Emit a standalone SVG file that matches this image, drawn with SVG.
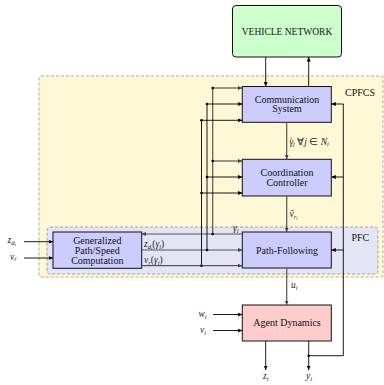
<svg xmlns="http://www.w3.org/2000/svg" width="384" height="385" viewBox="0 0 384 385">
<defs>
<marker id="ah" markerWidth="5" markerHeight="4" refX="4.5" refY="2" orient="auto" markerUnits="userSpaceOnUse">
<path d="M0,0 L4.5,2 L0,4 Z" fill="#000"/>
</marker>
<marker id="ahg" markerWidth="5" markerHeight="4" refX="4.5" refY="2" orient="auto" markerUnits="userSpaceOnUse">
<path d="M0,0 L4.5,2 L0,4 Z" fill="#444"/>
</marker>
<style>
.box{stroke:#111;stroke-width:1}
.blk{fill:#ccccff}
.txt{font-family:"Liberation Serif","Times New Roman",serif;font-size:10px;fill:#111;text-anchor:middle}
.lbl{font-family:"Liberation Serif","Times New Roman",serif;font-size:10px;fill:#111}
.m{font-family:"Liberation Serif","Times New Roman",serif;font-style:italic;font-size:9.5px;fill:#222}
.c{fill:none;stroke:#000;stroke-width:0.9}
.cg{fill:none;stroke:#555;stroke-width:1.2}
.a{marker-end:url(#ah)}
.ag{marker-end:url(#ahg)}
.dot{fill:#000}
</style>
</defs>

<g id="cpfcs">
<rect x="39" y="76" width="344" height="201" rx="2" fill="#fff8d6" stroke="#aaa38a" stroke-width="0.9" stroke-dasharray="3,2"/>
<text class="lbl" x="345" y="96">CPFCS</text>
</g>
<g id="pfc">
<rect x="47" y="227" width="331" height="47" rx="3" fill="#e4e4f7" stroke="#999" stroke-width="0.9" stroke-dasharray="3,2"/>
<text class="lbl" x="351.5" y="241">PFC</text>
</g>

<g id="vehicle-network">
<rect class="box" x="232.5" y="5.5" width="109" height="51.5" rx="3.5" fill="#ccffcc"/>
<text class="txt" x="287" y="35" style="font-size:9.5px">VEHICLE NETWORK</text>
</g>
<g id="communication">
<rect class="box blk" x="242.3" y="86.5" width="89" height="35.8"/>
<text class="txt" x="287" y="102.5">Communication</text>
<text class="txt" x="287" y="112">System</text>
</g>
<g id="coordination">
<rect class="box blk" x="242.3" y="159.3" width="89" height="36.7"/>
<text class="txt" x="287" y="176">Coordination</text>
<text class="txt" x="287" y="185.5">Controller</text>
</g>
<g id="path-following">
<rect class="box blk" x="242.3" y="232" width="89" height="36"/>
<text class="txt" x="287" y="253.5">Path-Following</text>
</g>
<g id="generalized">
<rect class="box blk" x="53" y="232" width="88.7" height="36.3"/>
<text class="txt" x="97.3" y="243.5">Generalized</text>
<text class="txt" x="97.3" y="254">Path/Speed</text>
<text class="txt" x="97.3" y="264">Computation</text>
</g>
<g id="agent">
<rect class="box" x="242.3" y="305" width="89" height="36" fill="#ffcccc"/>
<text class="txt" x="287" y="325.5">Agent Dynamics</text>
</g>

<g id="connectors">
<path class="c a" d="M265.7 57 V86.5"/>
<path class="c a" d="M308.7 86.5 V57"/>
<path class="cg" d="M212.7 88 V234"/>
<path class="cg ag" d="M212.7 88 H242.3"/>
<path class="cg ag" d="M212.7 161 H242.3"/>
<path class="cg ag" d="M242.3 234 H141.7"/>
<path class="c" d="M207 104 V250"/>
<path class="c a" d="M207 104 H242.3"/>
<path class="c a" d="M207 177 H242.3"/>
<path class="cg ag" d="M141.7 250 H242.3"/>
<path class="c" d="M201.5 120.3 V265.7"/>
<path class="c a" d="M201.5 120.3 H242.3"/>
<path class="c a" d="M201.5 193 H242.3"/>
<path class="cg ag" d="M141.7 265.7 H242.3"/>
<path class="cg ag" d="M286.7 122.3 V159.3"/>
<path class="cg ag" d="M286.7 196 V232"/>
<path class="cg ag" d="M286.7 268 V305"/>
<path class="c" d="M308.7 355.7 H343.3 V104"/>
<path class="c a" d="M343.3 104 H331.3"/>
<path class="c a" d="M343.3 177 H331.3"/>
<path class="c a" d="M343.3 250 H331.3"/>
<path class="c a" d="M265.7 341 V370"/>
<path class="c a" d="M308.7 341 V370"/>
<path class="c a" d="M213 314.5 H242.3"/>
<path class="c a" d="M213 330.5 H242.3"/>
<path class="c a" d="M24 241.7 H53"/>
<path class="c a" d="M24 258 H53"/>
<circle class="dot" cx="212.7" cy="88" r="1.3"/>
<circle class="dot" cx="212.7" cy="161" r="1.3"/>
<circle class="dot" cx="212.7" cy="234" r="1.3"/>
<circle class="dot" cx="207" cy="104" r="1.3"/>
<circle class="dot" cx="207" cy="177" r="1.3"/>
<circle class="dot" cx="207" cy="250" r="1.3"/>
<circle class="dot" cx="201.5" cy="120.3" r="1.3"/>
<circle class="dot" cx="201.5" cy="193" r="1.3"/>
<circle class="dot" cx="201.5" cy="265.7" r="1.3"/>
<circle class="dot" cx="308.7" cy="355.7" r="1.3"/>
<text class="m" x="233" y="231">γ<tspan font-size="6.5" dy="1.5">i</tspan></text>
<text class="m" x="289.5" y="144.5">γ<tspan dx="-3.6" dy="-3.2" font-size="6" font-style="normal">^</tspan><tspan dx="0.6" dy="4.7" font-size="6.5">j</tspan><tspan dy="-1.5" font-style="normal"> ∀</tspan>j <tspan font-style="normal">∈</tspan> N<tspan font-size="6.5" dy="1.5">i</tspan></text>
<text class="m" x="289.5" y="217">ṽ<tspan font-size="6.5" dy="1.5">r</tspan><tspan font-size="5" dy="1">i</tspan></text>
<text class="m" x="291" y="288">u<tspan font-size="6.5" dy="1.5">i</tspan></text>
<text class="m" x="198.5" y="317">w<tspan font-size="6.5" dy="1.5">i</tspan></text>
<text class="m" x="200" y="333">v<tspan font-size="6.5" dy="1.5">i</tspan></text>
<text class="m" x="263" y="379">z<tspan font-size="6.5" dy="1.5">i</tspan></text>
<text class="m" x="306" y="379">y<tspan font-size="6.5" dy="1.5">i</tspan></text>
<text class="m" x="7.5" y="243">z<tspan font-size="6.5" dy="1.5">d</tspan><tspan font-size="5" dy="1">i</tspan></text>
<text class="m" x="10" y="259.5">v<tspan font-size="6.5" dy="1.5">r</tspan></text>
<text class="m" x="144" y="247">z<tspan font-size="6.5" dy="1.5">d</tspan><tspan font-size="5" dy="1">i</tspan><tspan dy="-2.5" font-style="normal">(</tspan>γ<tspan font-size="6.5" dy="1.5">i</tspan><tspan dy="-1.5" font-style="normal">)</tspan></text>
<text class="m" x="144" y="263">v<tspan font-size="6.5" dy="1.5">r</tspan><tspan dy="-1.5" font-style="normal">(</tspan>γ<tspan font-size="6.5" dy="1.5">i</tspan><tspan dy="-1.5" font-style="normal">)</tspan></text>
</g>
</svg>
